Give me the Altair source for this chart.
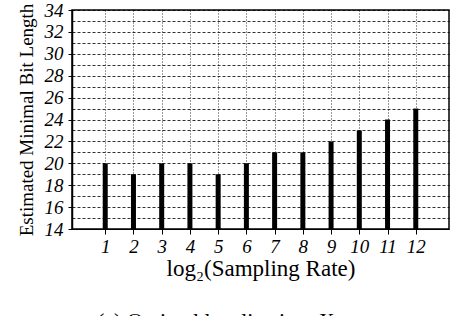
import altair as alt
import pandas as pd

rates = [1, 2, 3, 4, 5, 6, 7, 8, 9, 10, 11, 12]
bit_lengths = [20, 19, 20, 20, 19, 20, 21, 21, 22, 23, 24, 25]
y_ticks = list(range(14, 35))
caption = "(a) Optimal localization: X"

df = pd.DataFrame({"rate": rates, "bits": bit_lengths})

FONT = "Liberation Serif"
TICKFONT = "Liberation Serif"

x = alt.X("rate:Q",
          scale=alt.Scale(domain=[0, 13], nice=False, zero=False),
          axis=alt.Axis(values=rates, title="log₂(Sampling Rate)",
                        grid=True, gridDash=[1, 2], gridColor="black", gridOpacity=0.8,
                        tickSize=5, tickColor="black", domainColor="black",
                        labelFont=TICKFONT, labelFontStyle="italic", labelFontSize=19,
                        labelColor="black", labelPadding=3,
                        titleFont=FONT, titleFontSize=23, titleFontWeight="normal",
                        titleColor="black", titlePadding=1))
y = alt.Y("bits:Q",
          scale=alt.Scale(domain=[14, 34], nice=False, zero=False),
          axis=alt.Axis(values=y_ticks, title="Estimated Minimal Bit Length",
                        labelExpr="datum.value % 2 === 0 ? datum.label : ''",
                        tickColor=alt.ExprRef("datum.value % 2 === 0 ? 'black' : 'transparent'"),
                        grid=True, gridDash=[3, 2], gridColor="black", gridOpacity=0.8,
                        tickSize=4, domainColor="black", domainWidth=1.5,
                        labelFont=TICKFONT, labelFontStyle="italic", labelFontSize=19,
                        labelColor="black", labelPadding=5,
                        titleFont=FONT, titleFontSize=19, titleFontWeight="normal",
                        titleColor="black", titlePadding=8))

bars = alt.Chart(df).mark_bar(color="black", width=5).encode(
    x=x, y=y, y2=alt.datum(14)
)

cap = alt.Chart(pd.DataFrame({"t": [caption]})).mark_text(
    font=FONT, fontSize=22, align="left", baseline="alphabetic", color="black"
).encode(x=alt.value(25), y=alt.value(318), text="t:N")

chart = alt.layer(bars, cap).properties(
    width=377, height=219,
    autosize=alt.AutoSizeParams(type="none"),
    padding={"left": 72, "top": 10, "right": 7, "bottom": 97},
).configure_view(stroke="black", strokeWidth=1.5)

chart.save("out.html", embed_options={"renderer": "svg", "actions": False})
